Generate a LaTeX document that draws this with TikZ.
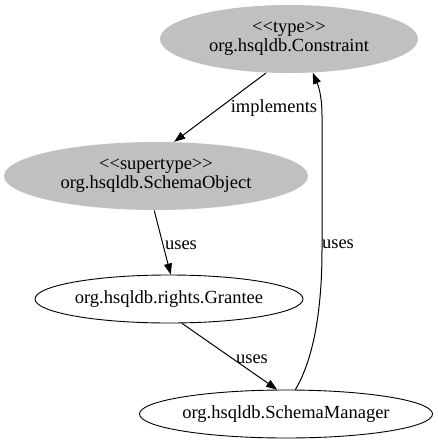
\documentclass[tikz,border=0pt]{standalone}
\usepackage{fontspec}
\setmainfont{Liberation Serif}
\usetikzlibrary{arrows.meta, shapes.geometric}
\definecolor{cgray}{RGB}{192,192,192}

\tikzset{
  cls/.style={ellipse, draw, line width=0.9pt, inner sep=0pt, align=center,
    font=\fontsize{18.5}{19}\selectfont},
  iface/.style={cls, draw=none, fill=cgray},
  lbl/.style={font=\fontsize{18.5}{19}\selectfont, inner sep=0pt},
  edge/.style={-{Triangle[length=11pt, width=8pt]}, line width=1pt}
}

\begin{document}
\begin{tikzpicture}[x=1pt, y=-1pt]
  \useasboundingbox (0,0) rectangle (437,445);

  \node[iface, minimum width=258pt, minimum height=68pt] (con) at (289,39)
    {{<}{<}type{>}{>}\\org.hsqldb.Constraint};
  \node[iface, minimum width=304pt, minimum height=68pt] (sob) at (156,176)
    {{<}{<}supertype{>}{>}\\org.hsqldb.SchemaObject};
  \node[cls, minimum width=268pt, minimum height=48pt] (gra) at (169,299)
    {org.hsqldb.rights.Grantee};
  \node[cls, minimum width=292pt, minimum height=48pt] (mgr) at (286,414)
    {org.hsqldb.SchemaManager};

  \draw[edge] (con.236) -- (sob.62);
  \draw[edge] (sob.267) -- (gra.86);
  \draw[edge] (gra.298) -- (mgr.110);
  \draw[edge] (mgr.69) .. controls (316,355) and (322,300) .. (322,250)
    -- (322,115) .. controls (322,95) and (318,85) .. (con.305);

  \node[lbl] (limpl) at (274,108) {implements};
  \node[lbl] (luse1) at (181,245) {uses};
  \node[lbl] (luse2) at (252,359) {uses};
  \node[lbl] (luse3) at (338,244) {uses};
\end{tikzpicture}
\end{document}
